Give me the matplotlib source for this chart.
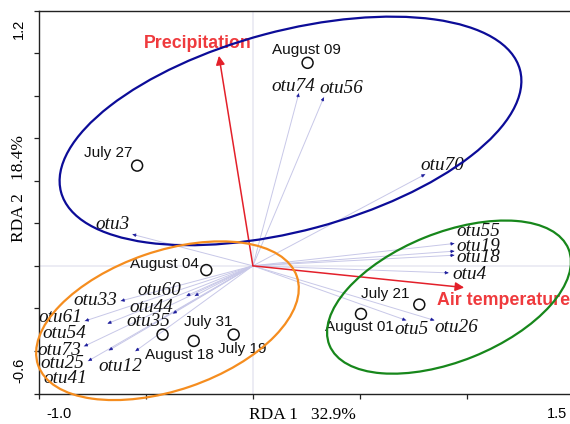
import numpy as np
import matplotlib
matplotlib.use("Agg")
import matplotlib.pyplot as plt
from matplotlib.patches import Ellipse
from matplotlib.transforms import blended_transform_factory

# species scores (arrow tips)
species = ["otu74", "otu56", "otu70", "otu3", "otu55", "otu19", "otu18", "otu4",
           "otu5", "otu26", "otu60", "otu44", "otu35", "otu33", "otu61", "otu54",
           "otu73", "otu41", "otu25", "otu12"]
species_x = [0.215, 0.332, 0.806, -0.564, 0.943, 0.943, 0.943, 0.916,
             0.717, 0.849, -0.272, -0.311, -0.374, -0.618, -0.786, -0.680,
             -0.790, -0.674, -0.771, -0.550]
species_y = [0.811, 0.792, 0.430, 0.148, 0.105, 0.069, 0.050, -0.033,
             -0.256, -0.256, -0.141, -0.141, -0.224, -0.165, -0.259, -0.271,
             -0.378, -0.397, -0.447, -0.401]

# sampling dates (site scores)
sites = ["August 09", "July 27", "August 04", "July 31", "July 19",
         "August 18", "July 21", "August 01"]
site_x = [0.256, -0.542, -0.218, -0.277, -0.090, -0.423, 0.779, 0.506]
site_y = [0.954, 0.471, -0.020, -0.353, -0.323, -0.323, -0.182, -0.226]

# environmental variables
env = ["Precipitation", "Air temperature"]
env_x = [-0.159, 0.989]
env_y = [0.987, -0.102]

# group ellipses: centre x, centre y, width, height, angle
groups = ["blue", "orange", "green"]
ell_cx = [0.176, -0.400, 0.918]
ell_cy = [0.634, -0.258, -0.147]
ell_w = [2.224, 1.281, 1.207]
ell_h = [0.939, 0.654, 0.604]
ell_ang = [15.0, 19.0, 22.0]

xticks = [-1.0, -0.5, 0.0, 0.5, 1.0, 1.5]
yticks = [-0.6, -0.4, -0.2, 0.0, 0.2, 0.4, 0.6, 0.8, 1.0, 1.2]

# label offsets in pixels (dx, dy)
sp_off = {"otu74": (-5, 7), "otu56": (18, 9), "otu70": (17, 9), "otu3": (-20, 10),
          "otu55": (24, 12), "otu19": (24, 5), "otu18": (24, -2), "otu4": (21, -2),
          "otu5": (5, -9), "otu26": (22, -7), "otu60": (-35, 5), "otu44": (-35, -12),
          "otu35": (-25, -8), "otu33": (-26, 0), "otu61": (-25, 3), "otu54": (-43, -10),
          "otu73": (-25, -4), "otu41": (-44, -28), "otu25": (-26, -3), "otu12": (-15, -15)}
site_off = {"August 09": (-1, 13), "July 27": (-29, 13), "August 04": (-42, 6),
            "July 31": (15, 19), "July 19": (9, -14), "August 18": (17, -20),
            "July 21": (-34, 11), "August 01": (-2, -13)}

SANS = "Liberation Sans"
SERIF = "Liberation Serif"
ell_colors = {"blue": "#0c0c98", "orange": "#f58d1f", "green": "#17871b"}

fig = plt.figure(figsize=(5.7, 4.24), dpi=100)
ax = fig.add_axes([39.3 / 570, 30.5 / 424, 534 / 570, 383 / 424])
ax.set_xlim(-1.0, 1.5)
ax.set_ylim(-0.6, 1.2)

ax.axvline(0, color="#ebebf3", lw=1.3, zorder=0)
ax.axhline(0, color="#ebebf3", lw=1.3, zorder=0)

# species arrows
for name, x, y in zip(species, species_x, species_y):
    ax.plot([0, x], [0, y], color="#c8c8e8", lw=0.7, zorder=1)
    d = np.hypot(x, y)
    ax.annotate("", xy=(x, y), xytext=(x - 0.02 * x / d, y - 0.02 * y / d),
                arrowprops=dict(arrowstyle="-|>", color="#1c1c9c", lw=0.4,
                                mutation_scale=5, shrinkA=0, shrinkB=0), zorder=2)
    ax.annotate(name, xy=(x, y), xytext=sp_off[name], textcoords="offset pixels",
                ha="center", va="center", fontsize=13.8, style="italic",
                family=SERIF, color="#111111", zorder=4)

# environmental arrows
for name, x, y in zip(env, env_x, env_y):
    ax.annotate("", xy=(x, y), xytext=(0, 0),
                arrowprops=dict(arrowstyle="-|>", color="#e3202a", lw=1.1,
                                mutation_scale=13, shrinkA=0, shrinkB=0), zorder=3)
ax.annotate(env[0], xy=(env_x[0], env_y[0]), xytext=(-21, 12), textcoords="offset pixels",
            ha="center", va="center", fontsize=12.8, fontweight="bold",
            family=SANS, color="#ef3a3d", zorder=4)
ax.annotate(env[1], xy=(env_x[1], env_y[1]), xytext=(-27, -13), textcoords="offset pixels",
            ha="left", va="center", fontsize=12.8, fontweight="bold",
            family=SANS, color="#ef3a3d", zorder=4, annotation_clip=False)

# sites
ax.scatter(site_x, site_y, s=62, facecolors="none", edgecolors="#111111",
           linewidths=1.1, zorder=3)
for name, x, y in zip(sites, site_x, site_y):
    ax.annotate(name, xy=(x, y), xytext=site_off[name], textcoords="offset pixels",
                ha="center", va="center", fontsize=11, family=SANS,
                color="#111111", zorder=4)

# ellipses
for g, cx, cy, w, h, a in zip(groups, ell_cx, ell_cy, ell_w, ell_h, ell_ang):
    ax.add_patch(Ellipse((cx, cy), w, h, angle=a, fill=False,
                         edgecolor=ell_colors[g], lw=1.6, zorder=5, clip_on=False))

# axes styling
ax.spines["right"].set_visible(False)
for s in ["left", "bottom", "top"]:
    ax.spines[s].set_color("#222222")
    ax.spines[s].set_linewidth(1.0)
ax.set_xticks(xticks)
ax.set_yticks(yticks)
ax.set_xticklabels([])
ax.set_yticklabels([])
ax.tick_params(direction="out", length=3.5, width=0.9, color="#222222")

tx = blended_transform_factory(ax.transData, ax.transAxes)
ty = blended_transform_factory(ax.transAxes, ax.transData)
ax.annotate(f"{xticks[0]:.1f}", xy=(xticks[0], 0), xycoords=tx, xytext=(20, -20),
            textcoords="offset pixels", ha="center", va="center", fontsize=10.5,
            family=SANS, annotation_clip=False)
ax.annotate(f"{xticks[-1]:.1f}", xy=(xticks[-1], 0), xycoords=tx, xytext=(-16, -20),
            textcoords="offset pixels", ha="center", va="center", fontsize=10.5,
            family=SANS, annotation_clip=False)
ax.annotate(f"{yticks[0]:.1f}", xy=(0, yticks[0]), xycoords=ty, xytext=(-20, 23),
            textcoords="offset pixels", ha="center", va="center", fontsize=10.5,
            family=SANS, rotation=90, annotation_clip=False)
ax.annotate(f"{yticks[-1]:.1f}", xy=(0, yticks[-1]), xycoords=ty, xytext=(-20, -18),
            textcoords="offset pixels", ha="center", va="center", fontsize=10.5,
            family=SANS, rotation=90, annotation_clip=False)

fig.text(302 / 570, 1 - 415 / 424, "RDA 1   32.9%", ha="center", va="center",
         fontsize=12.5, family=SERIF)
fig.text(19 / 570, 1 - 188 / 424, "RDA 2   18.4%", ha="center", va="center",
         fontsize=12.5, family=SERIF, rotation=90)

fig.savefig("out.png", dpi=100)
